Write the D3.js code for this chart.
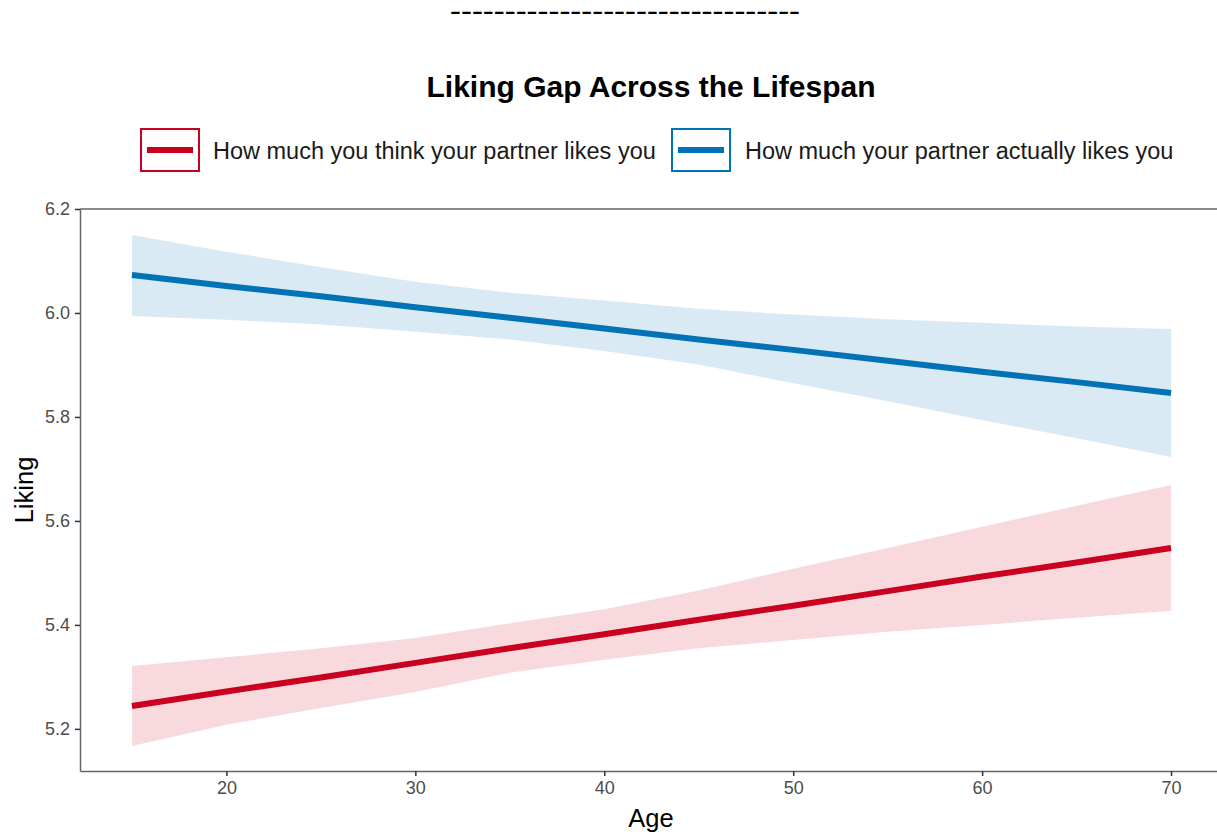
<!DOCTYPE html>
<html>
<head>
<meta charset="utf-8">
<script src="https://cdn.jsdelivr.net/npm/d3@7"></script>
<style>
  html, body { margin: 0; padding: 0; background: #fff; }
  svg { display: block; font-family: "Liberation Sans", Arial, sans-serif; }
</style>
</head>
<body>
<svg id="chart" width="1217" height="832"></svg>
<script>
// ---- Data ----
const ages = [15, 20, 25, 30, 35, 40, 45, 50, 55, 60, 65, 70];

const thinkFit   = [5.244, 5.272, 5.299, 5.327, 5.355, 5.382, 5.410, 5.437, 5.465, 5.493, 5.520, 5.548];
const thinkLower = [5.167, 5.208, 5.240, 5.271, 5.308, 5.333, 5.355, 5.371, 5.387, 5.400, 5.414, 5.427];
const thinkUpper = [5.321, 5.338, 5.355, 5.375, 5.403, 5.430, 5.466, 5.508, 5.548, 5.589, 5.629, 5.669];

const actualFit   = [6.073, 6.052, 6.032, 6.011, 5.991, 5.970, 5.949, 5.929, 5.908, 5.887, 5.867, 5.846];
const actualLower = [5.994, 5.987, 5.978, 5.964, 5.949, 5.927, 5.901, 5.865, 5.830, 5.794, 5.759, 5.723];
const actualUpper = [6.150, 6.118, 6.088, 6.060, 6.039, 6.024, 6.008, 5.997, 5.988, 5.981, 5.974, 5.969];

const xTicks = [20, 30, 40, 50, 60, 70];
const yTicks = [5.2, 5.4, 5.6, 5.8, 6.0, 6.2];

const seriesNames = ["How much you think your partner likes you", "How much your partner actually likes you"];
const seriesColors = ["#c9001f", "#0072b5"];
const titleText = "Liking Gap Across the Lifespan";
const dashText = "--------------------------------";

// ---- Layout ----
const svg = d3.select("#chart");
const pLeft = 80, pRight = 1223, pTop = 209, pBottom = 771;

const x = d3.scaleLinear().domain([12.25, 72.75]).range([pLeft, pRight]);
const y = d3.scaleLinear().domain([5.119, 6.2]).range([pBottom, pTop]);

// dashes at top
svg.append("text")
  .attr("x", 625).attr("y", 17.5)
  .attr("text-anchor", "middle")
  .attr("font-size", 18)
  .attr("font-weight", "bold")
  .attr("textLength", 350)
  .attr("lengthAdjust", "spacingAndGlyphs")
  .attr("fill", "#000")
  .text(dashText);

// title
svg.append("text")
  .attr("x", 651).attr("y", 97)
  .attr("text-anchor", "middle")
  .attr("font-size", 30)
  .attr("font-weight", "bold")
  .attr("fill", "#000")
  .text(titleText);

// legend
const legendItems = [
  { name: seriesNames[0], color: seriesColors[0], bx: 140, tx: 213 },
  { name: seriesNames[1], color: seriesColors[1], bx: 671, tx: 745 }
];
legendItems.forEach(it => {
  svg.append("rect")
    .attr("x", it.bx + 1).attr("y", 129)
    .attr("width", 58).attr("height", 42)
    .attr("fill", "#fff")
    .attr("stroke", it.color).attr("stroke-width", 2);
  svg.append("line")
    .attr("x1", it.bx + 7).attr("x2", it.bx + 53)
    .attr("y1", 150).attr("y2", 150)
    .attr("stroke", it.color).attr("stroke-width", 6);
  svg.append("text")
    .attr("x", it.tx).attr("y", 159)
    .attr("font-size", 23.5)
    .attr("fill", "#1a1a1a")
    .text(it.name);
});

// bands and lines
const think = ages.map((a, i) => ({ a, fit: thinkFit[i], lo: thinkLower[i], hi: thinkUpper[i] }));
const actual = ages.map((a, i) => ({ a, fit: actualFit[i], lo: actualLower[i], hi: actualUpper[i] }));

const area = d3.area().x(d => x(d.a)).y0(d => y(d.lo)).y1(d => y(d.hi));
const line = d3.line().x(d => x(d.a)).y(d => y(d.fit));

[[think, seriesColors[0]], [actual, seriesColors[1]]].forEach(([data, col]) => {
  svg.append("path").datum(data)
    .attr("d", area)
    .attr("fill", col).attr("fill-opacity", 0.15);
});
[[think, seriesColors[0]], [actual, seriesColors[1]]].forEach(([data, col]) => {
  svg.append("path").datum(data)
    .attr("d", line)
    .attr("fill", "none")
    .attr("stroke", col).attr("stroke-width", 6);
});

// axes
const axisColor = "#666";
const xAxis = svg.append("g")
  .attr("transform", `translate(0,${pBottom})`)
  .call(d3.axisBottom(x).tickValues(xTicks).tickFormat(d3.format("d")).tickSize(5).tickSizeOuter(0).tickPadding(5));
const yAxis = svg.append("g")
  .attr("transform", `translate(${pLeft},0)`)
  .call(d3.axisLeft(y).tickValues(yTicks).tickFormat(d3.format(".1f")).tickSize(5).tickSizeOuter(0).tickPadding(5));

[xAxis, yAxis].forEach(g => {
  g.select(".domain").attr("stroke", axisColor).attr("stroke-width", 1.5);
  g.selectAll(".tick line").attr("stroke", "#333").attr("stroke-width", 1.5);
  g.selectAll(".tick text")
    .attr("fill", "#4d4d4d")
    .attr("font-size", 18)
    .attr("font-family", "Liberation Sans, Arial, sans-serif");
});

// top border line
svg.append("line")
  .attr("x1", pLeft).attr("x2", pRight)
  .attr("y1", pTop).attr("y2", pTop)
  .attr("stroke", axisColor).attr("stroke-width", 1.5);

// axis titles
svg.append("text")
  .attr("x", 651).attr("y", 827)
  .attr("text-anchor", "middle")
  .attr("font-size", 25.5)
  .attr("fill", "#000")
  .text("Age");
svg.append("text")
  .attr("transform", `translate(33,490) rotate(-90)`)
  .attr("text-anchor", "middle")
  .attr("font-size", 25.5)
  .attr("fill", "#000")
  .text("Liking");
</script>
</body>
</html>
